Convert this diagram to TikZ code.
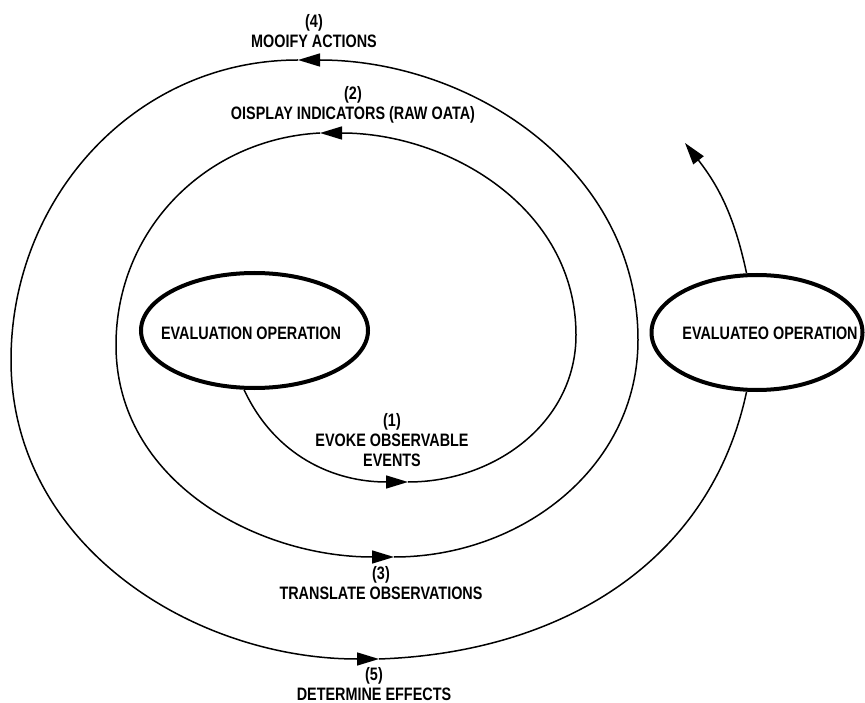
\documentclass[tikz,border=0pt]{standalone}
\usepackage{fontspec}
\setmainfont{Liberation Sans}[FakeStretch=0.8]
\usetikzlibrary{shapes.geometric,arrows.meta}
\begin{document}
\begin{tikzpicture}[x=1pt,y=1pt,
  oval/.style={draw, ellipse, line width=4pt, inner sep=0pt},
  lab/.style={font=\fontsize{18}{20}\selectfont\bfseries, align=center, inner sep=0pt},
  flow/.style={line width=1.5pt},
  tipped/.style={-{Triangle[length=22pt,width=13pt]}}]
\useasboundingbox (0,0) rectangle (865,-703);
% operations
\node[oval, minimum width=227pt, minimum height=115pt] (evn) at (254.5,-330.5) {};
\node[lab] (evnt) at (251,-333) {EVALUATION OPERATION};
\node[oval, minimum width=211pt, minimum height=115pt] (evd) at (757,-332.5) {};
\node[lab] (evdt) at (770,-333) {EVALUATEO OPERATION};
% labels
\node[lab] (l4) at (314,-31) {(4)\\MOOIFY ACTIONS};
\node[lab] (l2) at (353,-105) {(2)\\OISPLAY INDICATORS (RAW OATA)};
\node[lab] (l1) at (392,-440) {(1)\\EVOKE OBSERVABLE\\EVENTS};
\node[lab] (l3) at (381,-583) {(3)\\TRANSLATE OBSERVATIONS};
\node[lab] (l5) at (374,-684) {(5)\\DETERMINE EFFECTS};
% spiral way points
\coordinate (a1) at (408,-482);
\coordinate (r1) at (576,-335);
\coordinate (a2) at (320,-133);
\coordinate (le1) at (116,-345);
\coordinate (a3) at (394,-557);
\coordinate (r2) at (638,-340);
\coordinate (a4) at (298,-60);
\coordinate (le2) at (11,-360);
\coordinate (a5) at (379,-659);
\coordinate (top) at (685,-143);
% spiral
\draw[flow,tipped] (evn.-100) to[out=-65,in=180] (a1);
\draw[flow,tipped] (a1) to[out=0,in=-90] (r1) to[out=90,in=0] (a2);
\draw[flow,tipped] (a2) to[out=183,in=90] (le1) to[out=-90,in=180] (a3);
\draw[flow,tipped] (a3) to[out=0,in=-90] (r2) to[out=90,in=0] (a4);
\draw[flow,tipped] (a4) to[out=180,in=90] (le2) to[out=-90,in=180] (a5);
\draw[flow] (a5) to[out=2,in=-102] (evd.-100);
\draw[flow,tipped] (evd.100) to[out=102,in=-52] (top);
\end{tikzpicture}
\end{document}
